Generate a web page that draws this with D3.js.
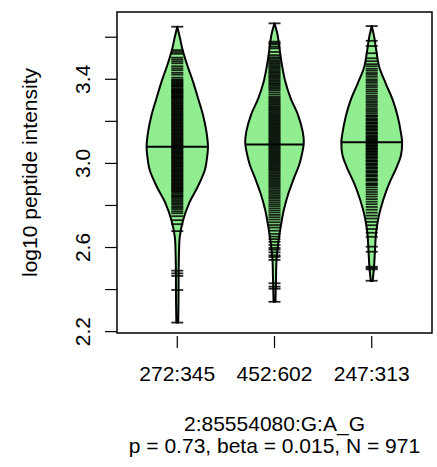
<!DOCTYPE html>
<html>
<head>
<meta charset="utf-8">
<script src="https://cdn.jsdelivr.net/npm/d3@7"></script>
<style>
  html, body { margin: 0; padding: 0; background: #fff; }
  svg { display: block; }
  text { font-family: "Liberation Sans", Arial, Helvetica, sans-serif; fill: #000; }
</style>
</head>
<body>
<svg id="chart" width="437" height="467"></svg>
<script>
// ---------------- data ----------------
const categories = ["272:345", "452:602", "247:313"];
const medians = [3.079, 3.090, 3.101];
const yTicks = [2.2, 2.4, 2.6, 2.8, 3.0, 3.2, 3.4, 3.6];
const yTickLabels = ["2.2", "", "2.6", "", "3.0", "", "3.4", ""];
const yLabel = "log10 peptide intensity";
const titleLine1 = "2:85554080:G:A_G";
const titleLine2 = "p = 0.73, beta = 0.015, N = 971";

// bean outlines: level (log10 intensity) and relative density
const bean1Levels = [3.650, 3.601, 3.547, 3.468, 3.388, 3.310, 3.230, 3.151, 3.079, 3.016, 2.969, 2.889, 2.810, 2.731, 2.651, 2.573, 2.493, 2.350, 2.243];
const bean1Dens   = [0, 0.08, 0.16, 0.32, 0.51, 0.67, 0.83, 0.94, 0.99, 0.95, 0.89, 0.66, 0.38, 0.19, 0.08, 0.055, 0.045, 0.04, 0.03];
const bean2Levels = [3.666, 3.611, 3.547, 3.468, 3.388, 3.310, 3.230, 3.151, 3.097, 3.016, 2.984, 2.937, 2.905, 2.858, 2.778, 2.699, 2.620, 2.541, 2.461, 2.342];
const bean2Dens   = [0, 0.10, 0.16, 0.24, 0.35, 0.52, 0.76, 0.91, 0.945, 0.84, 0.775, 0.645, 0.565, 0.45, 0.30, 0.20, 0.12, 0.065, 0.05, 0.03];
const bean3Levels = [3.653, 3.601, 3.539, 3.460, 3.381, 3.301, 3.222, 3.143, 3.102, 3.040, 2.984, 2.905, 2.826, 2.747, 2.668, 2.588, 2.509, 2.441];
const bean3Dens   = [0, 0.08, 0.145, 0.24, 0.45, 0.68, 0.84, 0.945, 0.98, 0.945, 0.81, 0.565, 0.37, 0.225, 0.14, 0.105, 0.075, 0.03];

const bean1Values = [3.650, 3.539, 3.530, 3.521, 3.503, 3.494, 3.485, 3.476, 3.462, 3.452, 3.443, 3.431, 3.422, 3.408, 3.399, 3.395, 3.390, 3.385, 3.380, 3.376, 3.371, 3.367, 3.364, 3.357, 3.352, 3.348, 3.345, 3.341, 3.337, 3.334, 3.329, 3.324, 3.320, 3.317, 3.313, 3.310, 3.305, 3.300, 3.295, 3.290, 3.286, 3.281, 3.276, 3.272, 3.267, 3.262, 3.258, 3.253, 3.248, 3.243, 3.238, 3.233, 3.229, 3.224, 3.219, 3.214, 3.209, 3.205, 3.200, 3.195, 3.191, 3.186, 3.181, 3.177, 3.172, 3.167, 3.162, 3.158, 3.153, 3.148, 3.143, 3.139, 3.134, 3.129, 3.124, 3.119, 3.115, 3.110, 3.105, 3.101, 3.096, 3.091, 3.087, 3.082, 3.077, 3.072, 3.068, 3.063, 3.058, 3.053, 3.049, 3.044, 3.039, 3.034, 3.029, 3.025, 3.020, 3.015, 3.010, 3.005, 3.001, 2.996, 2.991, 2.987, 2.982, 2.977, 2.972, 2.967, 2.963, 2.958, 2.953, 2.948, 2.943, 2.939, 2.934, 2.929, 2.924, 2.920, 2.915, 2.910, 2.905, 2.901, 2.896, 2.891, 2.886, 2.882, 2.877, 2.872, 2.868, 2.863, 2.856, 2.849, 2.844, 2.839, 2.832, 2.825, 2.818, 2.811, 2.804, 2.796, 2.789, 2.782, 2.772, 2.763, 2.749, 2.730, 2.711, 2.678, 2.490, 2.477, 2.465, 2.398, 2.243];
const bean2Values = [3.666, 3.579, 3.572, 3.566, 3.555, 3.547, 3.530, 3.515, 3.505, 3.498, 3.490, 3.484, 3.477, 3.470, 3.463, 3.457, 3.450, 3.443, 3.436, 3.430, 3.423, 3.416, 3.410, 3.403, 3.396, 3.389, 3.382, 3.376, 3.369, 3.362, 3.355, 3.348, 3.338, 3.328, 3.318, 3.311, 3.305, 3.298, 3.292, 3.285, 3.279, 3.272, 3.266, 3.260, 3.254, 3.248, 3.241, 3.235, 3.229, 3.223, 3.217, 3.211, 3.205, 3.199, 3.193, 3.187, 3.181, 3.175, 3.169, 3.163, 3.157, 3.151, 3.145, 3.139, 3.133, 3.127, 3.121, 3.115, 3.109, 3.103, 3.097, 3.091, 3.085, 3.079, 3.073, 3.067, 3.061, 3.055, 3.049, 3.043, 3.037, 3.031, 3.025, 3.019, 3.013, 3.007, 3.001, 2.995, 2.989, 2.983, 2.977, 2.971, 2.965, 2.958, 2.951, 2.944, 2.937, 2.930, 2.923, 2.916, 2.909, 2.902, 2.895, 2.888, 2.880, 2.872, 2.864, 2.856, 2.848, 2.840, 2.832, 2.823, 2.814, 2.805, 2.796, 2.786, 2.776, 2.766, 2.755, 2.744, 2.733, 2.720, 2.707, 2.695, 2.680, 2.665, 2.652, 2.640, 2.627, 2.612, 2.598, 2.590, 2.577, 2.563, 2.555, 2.541, 2.430, 2.414, 2.404, 2.342];
const bean3Values = [3.653, 3.583, 3.558, 3.524, 3.500, 3.486, 3.472, 3.462, 3.450, 3.441, 3.430, 3.422, 3.412, 3.400, 3.392, 3.383, 3.372, 3.363, 3.352, 3.343, 3.333, 3.322, 3.314, 3.305, 3.296, 3.288, 3.279, 3.271, 3.262, 3.254, 3.246, 3.238, 3.229, 3.226, 3.221, 3.212, 3.208, 3.204, 3.196, 3.192, 3.188, 3.180, 3.176, 3.172, 3.164, 3.160, 3.156, 3.148, 3.144, 3.140, 3.132, 3.128, 3.124, 3.117, 3.113, 3.110, 3.103, 3.099, 3.096, 3.089, 3.085, 3.082, 3.075, 3.071, 3.068, 3.061, 3.057, 3.054, 3.047, 3.043, 3.040, 3.032, 3.028, 3.024, 3.016, 3.012, 3.008, 3.000, 2.996, 2.992, 2.983, 2.979, 2.974, 2.965, 2.960, 2.955, 2.946, 2.941, 2.937, 2.927, 2.922, 2.917, 2.906, 2.901, 2.896, 2.886, 2.875, 2.864, 2.853, 2.842, 2.830, 2.818, 2.806, 2.793, 2.780, 2.766, 2.752, 2.738, 2.722, 2.706, 2.688, 2.670, 2.651, 2.604, 2.580, 2.509, 2.503, 2.496, 2.442];

const beans = [
  { levels: bean1Levels, dens: bean1Dens, values: bean1Values },
  { levels: bean2Levels, dens: bean2Dens, values: bean2Values },
  { levels: bean3Levels, dens: bean3Dens, values: bean3Values }
];

// ---------------- layout ----------------
const W = 437, H = 467;
const box = { left: 117, right: 432, top: 12, bottom: 333 };
const fontSize = 21;

const svg = d3.select("#chart");

const x = d3.scaleLinear().domain([0.38, 3.62]).range([box.left, box.right]);
const y = d3.scaleLinear().domain([2.1935, 3.72]).range([box.bottom, box.top]);
const w = d3.scaleLinear().domain([0, 1]).range([0, 31]);
const rugHalf = 6;

// beans
beans.forEach((b, i) => {
  const cx = x(i + 1);
  const pts = b.levels.map((v, k) => ({ v, d: b.dens[k] }));
  const area = d3.area()
    .y(p => y(p.v))
    .x0(p => cx - w(p.d))
    .x1(p => cx + w(p.d))
    .curve(d3.curveCatmullRom.alpha(0.5));
  const g = svg.append("g");
  g.append("path")
    .attr("d", area(pts))
    .attr("fill", "#90EE90")
    .attr("stroke", "#000")
    .attr("stroke-width", 2)
    .attr("stroke-linejoin", "round");

  g.selectAll("line.rug")
    .data(b.values)
    .join("line")
    .attr("class", "rug")
    .attr("x1", cx - rugHalf).attr("x2", cx + rugHalf)
    .attr("y1", v => y(v)).attr("y2", v => y(v))
    .attr("stroke", "#000")
    .attr("stroke-opacity", 0.85)
    .attr("stroke-width", 1.8);

  // median line spans bean width at the median level
  const m = medians[i];
  const interp = d3.scaleLinear().domain(b.levels).range(b.dens);
  const hw = w(interp(m));
  g.append("line")
    .attr("x1", cx - hw).attr("x2", cx + hw)
    .attr("y1", y(m)).attr("y2", y(m))
    .attr("stroke", "#000").attr("stroke-width", 2);
});

// box
svg.append("rect")
  .attr("x", box.left).attr("y", box.top)
  .attr("width", box.right - box.left).attr("height", box.bottom - box.top)
  .attr("fill", "none").attr("stroke", "#000").attr("stroke-width", 1.5);

// y axis ticks & labels
const yAxisG = svg.append("g");
yAxisG.selectAll("line")
  .data(yTicks)
  .join("line")
  .attr("x1", box.left - 12).attr("x2", box.left)
  .attr("y1", d => y(d)).attr("y2", d => y(d))
  .attr("stroke", "#000").attr("stroke-width", 1.2);
yAxisG.selectAll("text")
  .data(yTicks.map((t, k) => ({ t, lab: yTickLabels[k] })).filter(d => d.lab !== ""))
  .join("text")
  .attr("transform", d => `translate(90,${y(d.t)}) rotate(-90)`)
  .attr("text-anchor", "middle")
  .attr("font-size", fontSize)
  .text(d => d.lab);

// x axis ticks & labels
const xAxisG = svg.append("g");
xAxisG.selectAll("line")
  .data(categories)
  .join("line")
  .attr("x1", (d, i) => x(i + 1)).attr("x2", (d, i) => x(i + 1))
  .attr("y1", 336).attr("y2", 348)
  .attr("stroke", "#000").attr("stroke-width", 1.2);
xAxisG.selectAll("text")
  .data(categories)
  .join("text")
  .attr("x", (d, i) => x(i + 1))
  .attr("y", 381)
  .attr("text-anchor", "middle")
  .attr("font-size", fontSize)
  .text(d => d);

// axis title
const cxBox = (box.left + box.right) / 2;
svg.append("text")
  .attr("transform", `translate(36.5,${(box.top + box.bottom) / 2}) rotate(-90)`)
  .attr("text-anchor", "middle")
  .attr("font-size", fontSize)
  .text(yLabel);

svg.append("text")
  .attr("x", cxBox).attr("y", 431)
  .attr("text-anchor", "middle")
  .attr("font-size", fontSize)
  .text(titleLine1);
svg.append("text")
  .attr("x", cxBox).attr("y", 453)
  .attr("text-anchor", "middle")
  .attr("font-size", fontSize)
  .text(titleLine2);
</script>
</body>
</html>
